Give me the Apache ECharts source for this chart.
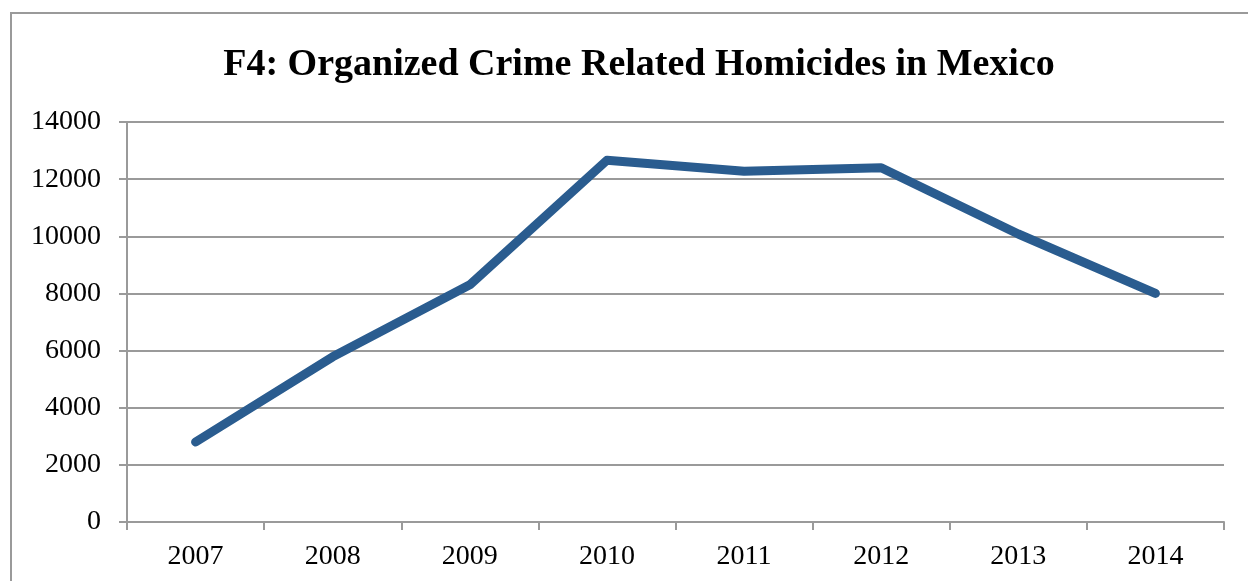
<!DOCTYPE html>
<html>
<head>
<meta charset="utf-8">
<script src="https://cdn.jsdelivr.net/npm/echarts@6/dist/echarts.min.js"></script>
<style>
html, body { margin: 0; padding: 0; background: #fff; }
#chart { width: 1248px; height: 581px; }
</style>
</head>
<body>
<div id="chart"></div>
<script>
// data
var years = ['2007', '2008', '2009', '2010', '2011', '2012', '2013', '2014'];
var homicides = [2800, 5780, 8300, 12660, 12280, 12400, 10080, 8000];
var yTicks = [0, 2000, 4000, 6000, 8000, 10000, 12000, 14000];

var chart = echarts.init(document.getElementById('chart'));
var gray = '#9a9a9a';
var serif = '"Liberation Serif", "DejaVu Serif", serif';

var option = {
  animation: false,
  backgroundColor: '#fff',
  title: {
    text: 'F4: Organized Crime Related Homicides in Mexico',
    left: 634,
    textAlign: 'center',
    top: 41,
    textStyle: {
      fontFamily: serif,
      fontWeight: 'bold',
      fontSize: 38,
      color: '#000'
    }
  },
  // outer frame of the chart area
  graphic: [{
    type: 'rect',
    shape: { x: 11, y: 13, width: 1300, height: 700 },
    style: { fill: 'none', stroke: gray, lineWidth: 2 },
    silent: true
  }],
  grid: {
    left: 127,
    right: 24,
    top: 122,
    bottom: 59
  },
  xAxis: {
    type: 'category',
    data: years,
    boundaryGap: true,
    axisLine: { lineStyle: { color: gray, width: 2 } },
    axisTick: { show: true, length: 8, lineStyle: { color: gray, width: 2 } },
    axisLabel: {
      color: '#000',
      fontFamily: serif,
      fontSize: 28,
      margin: 21
    },
    splitLine: { show: false }
  },
  yAxis: {
    type: 'value',
    min: yTicks[0],
    max: yTicks[yTicks.length - 1],
    interval: 2000,
    axisLine: { show: true, lineStyle: { color: gray, width: 2 } },
    axisTick: { show: true, length: 8, lineStyle: { color: gray, width: 2 } },
    axisLabel: {
      color: '#000',
      fontFamily: serif,
      fontSize: 28,
      margin: 26,
      formatter: function (v) { return String(v); }
    },
    splitLine: { show: true, lineStyle: { color: gray, width: 2 } }
  },
  series: [{
    type: 'line',
    data: homicides,
    showSymbol: false,
    symbol: 'none',
    lineStyle: {
      color: '#2A5C8F',
      width: 9,
      cap: 'round',
      join: 'round'
    }
  }]
};

chart.setOption(option);
</script>
</body>
</html>
